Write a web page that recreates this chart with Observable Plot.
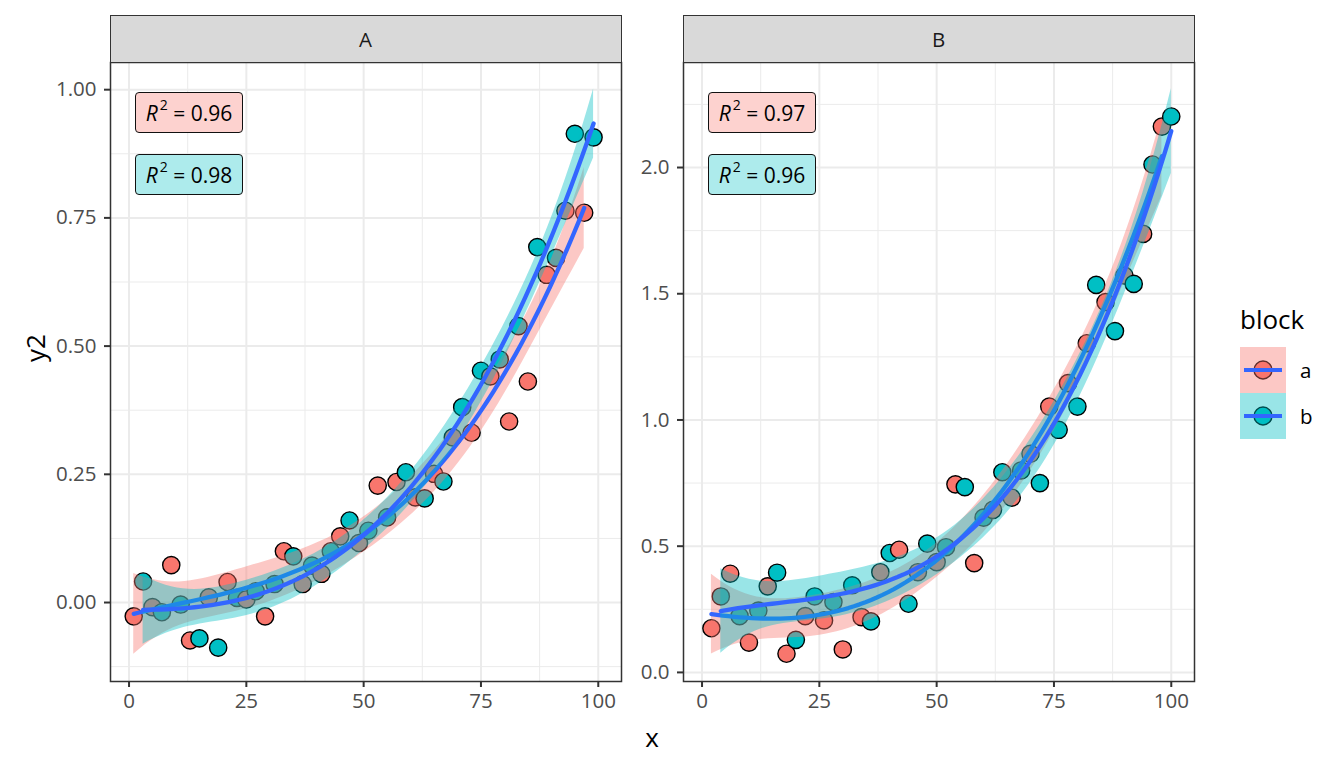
<!DOCTYPE html>
<html>
<head>
<meta charset="utf-8">
<script src="https://cdn.jsdelivr.net/npm/d3@7"></script>
<script src="https://cdn.jsdelivr.net/npm/@observablehq/plot@0.6"></script>
<style>
  html, body { margin: 0; padding: 0; background: #fff; }
  #wrap { position: relative; width: 1344px; height: 768px; overflow: hidden; font-family: 'Open Sans', 'Noto Sans', sans-serif; }
  .abs { position: absolute; }
  .strip { position: absolute; box-sizing: border-box; background: #D9D9D9; border: 1.5px solid #333; color: #1A1A1A; font-size: 20.5px; display: flex; align-items: center; justify-content: center; }
  .r2 { position: absolute; box-sizing: border-box; width: 108px; height: 41px; border: 1.2px solid #111; border-radius: 4px; font-size: 21px; color: #000; display: flex; align-items: center; justify-content: center; white-space: nowrap; }
  .r2 sup { font-size: 14px; position: relative; top: -3px; margin-left: 2px; }
</style>
</head>
<body>
<div id="wrap"></div>
<script>
// ---------- data ----------
const blocks = ["a", "b"];
const blockColors = ["#F8766D", "#00BFC4"];
const panels = ["A", "B"];

const xA_a = [1, 5, 9, 13, 17, 21, 25, 29, 33, 37, 41, 45, 49, 53, 57, 61, 65, 69, 73, 77, 81, 85, 89, 93, 97];
const yA_a = [-0.027, -0.009, 0.073, -0.074, 0.010, 0.040, 0.006, -0.027, 0.100, 0.036, 0.056, 0.129, 0.116, 0.228, 0.235, 0.205, 0.251, 0.322, 0.331, 0.441, 0.353, 0.431, 0.639, 0.764, 0.760];
const xA_b = [3, 7, 11, 15, 19, 23, 27, 31, 35, 39, 43, 47, 51, 55, 59, 63, 67, 71, 75, 79, 83, 87, 91, 95, 99];
const yA_b = [0.041, -0.019, -0.004, -0.070, -0.088, 0.009, 0.022, 0.036, 0.090, 0.072, 0.100, 0.160, 0.140, 0.166, 0.254, 0.203, 0.236, 0.381, 0.452, 0.474, 0.539, 0.693, 0.672, 0.914, 0.907];

const xB_a = [2, 6, 10, 14, 18, 22, 26, 30, 34, 38, 42, 46, 50, 54, 58, 62, 66, 70, 74, 78, 82, 86, 90, 94, 98];
const yB_a = [0.175, 0.391, 0.118, 0.341, 0.074, 0.223, 0.206, 0.091, 0.219, 0.397, 0.486, 0.397, 0.437, 0.745, 0.433, 0.644, 0.692, 0.866, 1.053, 1.146, 1.304, 1.467, 1.572, 1.737, 2.162];
const xB_b = [4, 8, 12, 16, 20, 24, 28, 32, 36, 40, 44, 48, 52, 56, 60, 64, 68, 72, 76, 80, 84, 88, 92, 96, 100];
const yB_b = [0.301, 0.223, 0.245, 0.395, 0.129, 0.301, 0.279, 0.345, 0.202, 0.473, 0.272, 0.510, 0.496, 0.734, 0.613, 0.793, 0.800, 0.750, 0.961, 1.053, 1.535, 1.352, 1.539, 2.012, 2.202];

const r2A = ["0.96", "0.98"];
const r2B = ["0.97", "0.96"];

const xMajor = [0, 25, 50, 75, 100];
const xMinor = [12.5, 37.5, 62.5, 87.5];
const yMajorA = [0, 0.25, 0.5, 0.75, 1.0];
const yMinorA = [-0.125, 0.125, 0.375, 0.625, 0.875];
const yMajorB = [0, 0.5, 1.0, 1.5, 2.0];
const yMinorB = [0.25, 0.75, 1.25, 1.75, 2.25];

// ---------- cubic polynomial fit with 95% confidence band (like stat_smooth lm) ----------
function invert(M) {
  const n = M.length;
  const A = M.map((r, i) => [...r, ...Array.from({length: n}, (_, j) => (i === j ? 1 : 0))]);
  for (let c = 0; c < n; c++) {
    let piv = c;
    for (let r = c + 1; r < n; r++) if (Math.abs(A[r][c]) > Math.abs(A[piv][c])) piv = r;
    [A[c], A[piv]] = [A[piv], A[c]];
    const d = A[c][c];
    for (let k = 0; k < 2 * n; k++) A[c][k] /= d;
    for (let r = 0; r < n; r++) {
      if (r === c) continue;
      const f = A[r][c];
      for (let k = 0; k < 2 * n; k++) A[r][k] -= f * A[c][k];
    }
  }
  return A.map(r => r.slice(n));
}
function polyFit(xs, ys, block) {
  const n = xs.length, p = 4;
  const row = x => { const u = x / 100; return [1, u, u * u, u * u * u]; };
  const M = Array.from({length: p}, () => new Array(p).fill(0));
  const v = new Array(p).fill(0);
  xs.forEach((x, i) => {
    const r = row(x);
    for (let j = 0; j < p; j++) { v[j] += r[j] * ys[i]; for (let k = 0; k < p; k++) M[j][k] += r[j] * r[k]; }
  });
  const inv = invert(M);
  const beta = inv.map(r => r.reduce((s, c, k) => s + c * v[k], 0));
  const pred = x => row(x).reduce((s, c, k) => s + c * beta[k], 0);
  const ssr = d3.sum(xs, (x, i) => (ys[i] - pred(x)) ** 2);
  const s2 = ssr / (n - p);
  const t = 2.0796; // qt(0.975, 21)
  const [x0, x1] = d3.extent(xs);
  return d3.range(80).map(i => {
    const x = x0 + (x1 - x0) * i / 79;
    const r = row(x);
    let q = 0;
    for (let j = 0; j < p; j++) for (let k = 0; k < p; k++) q += r[j] * inv[j][k] * r[k];
    const f = pred(x), se = Math.sqrt(s2 * q);
    return {x, fit: f, lo: f - t * se, hi: f + t * se, block};
  });
}

const toRows = (xs, ys, block) => xs.map((x, i) => ({x, y: ys[i], block}));

const FONT = "'Open Sans', 'Noto Sans', sans-serif";

function makePanel(cfg) {
  const pts = [...toRows(cfg.xa, cfg.ya, "a"), ...toRows(cfg.xb, cfg.yb, "b")].sort((p, q) => p.x - q.x);
  const fa = polyFit(cfg.xa, cfg.ya, "a");
  const fb = polyFit(cfg.xb, cfg.yb, "b");
  return Plot.plot({
    width: cfg.width, height: 768,
    marginLeft: cfg.ml, marginRight: cfg.mr, marginTop: 62, marginBottom: 87,
    style: {fontFamily: FONT, background: "transparent", overflow: "visible"},
    x: {domain: [-3.95, 104.95], axis: null},
    y: {domain: cfg.ydomain, axis: null},
    color: {domain: blocks, range: blockColors},
    marks: [
      Plot.ruleX(xMinor, {stroke: "#EBEBEB", strokeWidth: 1}),
      Plot.ruleY(cfg.yMinor, {stroke: "#EBEBEB", strokeWidth: 1}),
      Plot.ruleX(xMajor, {stroke: "#EBEBEB", strokeWidth: 2}),
      Plot.ruleY(cfg.yMajor, {stroke: "#EBEBEB", strokeWidth: 2}),
      Plot.dot(pts, {x: "x", y: "y", fill: "block", r: 8.6, stroke: "#000", strokeWidth: 1.4}),
      Plot.areaY(fa, {x: "x", y1: "lo", y2: "hi", fill: "block", fillOpacity: 0.4, clip: true}),
      Plot.line(fa, {x: "x", y: "fit", stroke: "#3366FF", strokeWidth: 4.3, clip: true}),
      Plot.areaY(fb, {x: "x", y1: "lo", y2: "hi", fill: "block", fillOpacity: 0.4, clip: true}),
      Plot.line(fb, {x: "x", y: "fit", stroke: "#3366FF", strokeWidth: 4.3, clip: true}),
      Plot.axisX({ticks: xMajor, tickFormat: d3.format("d"), tickSize: 6, tickPadding: 6, strokeWidth: 2, stroke: "#333", fill: "#4D4D4D", fontSize: 20.5, label: null}),
      Plot.axisY({ticks: cfg.yMajor, tickFormat: d3.format(cfg.yfmt), tickSize: 6, tickPadding: 8, strokeWidth: 2, stroke: "#333", fill: "#4D4D4D", fontSize: 20.5, label: null}),
      Plot.frame({stroke: "#333", strokeWidth: 1.5})
    ]
  });
}

const wrap = document.getElementById("wrap");

const plotA = makePanel({xa: xA_a, ya: yA_a, xb: xA_b, yb: yA_b, width: 640, ml: 110, mr: 19, ydomain: [-0.154, 1.053], yMajor: yMajorA, yMinor: yMinorA, yfmt: ".2f"});
plotA.style.position = "absolute"; plotA.style.left = "0px"; plotA.style.top = "0px";
wrap.appendChild(plotA);

const plotB = makePanel({xa: xB_a, ya: yB_a, xb: xB_b, yb: yB_b, width: 560, ml: 43, mr: 6, ydomain: [-0.036, 2.416], yMajor: yMajorB, yMinor: yMinorB, yfmt: ".1f"});
plotB.style.position = "absolute"; plotB.style.left = "640px"; plotB.style.top = "0px";
wrap.appendChild(plotB);

// strips
[[panels[0], 109.5], [panels[1], 682.5]].forEach(([lab, left]) => {
  const s = document.createElement("div");
  s.className = "strip";
  s.style.left = left + "px"; s.style.top = "15px"; s.style.width = "512px"; s.style.height = "47.5px";
  s.textContent = lab;
  wrap.appendChild(s);
});

// R^2 labels
const labelFills = ["#FDD2CF", "#ADEBEC"];
function addR2(left, vals) {
  vals.forEach((v, i) => {
    const d = document.createElement("div");
    d.className = "r2";
    d.style.left = left + "px"; d.style.top = (92 + i * 62) + "px";
    d.style.background = labelFills[i];
    d.innerHTML = `<span><i>R</i><sup>2</sup> = ${v}</span>`;
    wrap.appendChild(d);
  });
}
addR2(135, r2A);
addR2(708, r2B);

// axis titles
const yt = document.createElement("div");
yt.className = "abs";
yt.style.cssText = "left:35px;top:348px;transform:translate(-50%,-50%) rotate(-90deg);font-size:26px;color:#000;white-space:nowrap;";
yt.textContent = "y2";
wrap.appendChild(yt);
const xt = document.createElement("div");
xt.className = "abs";
xt.style.cssText = "left:652px;top:737px;transform:translate(-50%,-50%);font-size:26px;color:#000;";
xt.textContent = "x";
wrap.appendChild(xt);

// legend
const lt = document.createElement("div");
lt.className = "abs";
lt.style.cssText = "left:1240px;top:301px;font-size:26px;line-height:36px;color:#000;";
lt.textContent = "block";
wrap.appendChild(lt);
const ns = "http://www.w3.org/2000/svg";
const lsvg = document.createElementNS(ns, "svg");
lsvg.setAttribute("width", 46); lsvg.setAttribute("height", 92);
lsvg.style.cssText = "position:absolute;left:1240px;top:347px;";
blocks.forEach((b, i) => {
  const y0 = i * 46;
  const c = document.createElementNS(ns, "circle");
  c.setAttribute("cx", 23); c.setAttribute("cy", y0 + 23); c.setAttribute("r", 9);
  c.setAttribute("fill", blockColors[i]); c.setAttribute("stroke", "#000"); c.setAttribute("stroke-width", 1.4);
  const r = document.createElementNS(ns, "rect");
  r.setAttribute("x", 0); r.setAttribute("y", y0); r.setAttribute("width", 46); r.setAttribute("height", 46);
  r.setAttribute("fill", blockColors[i]); r.setAttribute("fill-opacity", 0.4);
  const l = document.createElementNS(ns, "line");
  l.setAttribute("x1", 4); l.setAttribute("x2", 42); l.setAttribute("y1", y0 + 23); l.setAttribute("y2", y0 + 23);
  l.setAttribute("stroke", "#3366FF"); l.setAttribute("stroke-width", 4);
  lsvg.appendChild(c); lsvg.appendChild(r); lsvg.appendChild(l);
  const t = document.createElement("div");
  t.className = "abs";
  t.style.cssText = `left:1300px;top:${347 + y0 + 23}px;transform:translateY(-50%);font-size:20.5px;color:#000;`;
  t.textContent = b;
  wrap.appendChild(t);
});
wrap.appendChild(lsvg);
</script>
</body>
</html>
